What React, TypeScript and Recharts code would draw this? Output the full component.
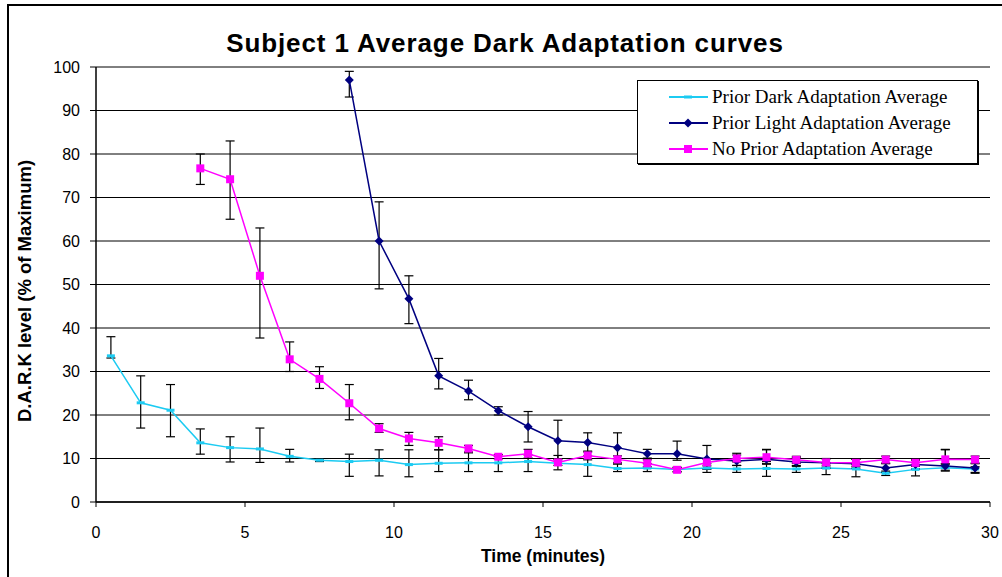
import React from 'react'
import {
  LineChart, Line, XAxis, YAxis, CartesianGrid, ErrorBar,
} from 'recharts'

// time in minutes (mid-point of each 1 min interval)
const times = [
  0.5, 1.5, 2.5, 3.5, 4.5, 5.5, 6.5, 7.5, 8.5, 9.5,
  10.5, 11.5, 12.5, 13.5, 14.5, 15.5, 16.5, 17.5, 18.5, 19.5,
  20.5, 21.5, 22.5, 23.5, 24.5, 25.5, 26.5, 27.5, 28.5, 29.5,
]

const priorDark = [
  33.6, 22.8, 21.1, 13.6, 12.5, 12.2, 10.5, 9.6, 9.3, 9.6,
  8.6, 8.9, 9.0, 9.0, 9.3, 8.9, 8.6, 7.7, 7.8, 7.5,
  7.8, 7.6, 7.7, 7.6, 7.8, 7.6, 6.6, 7.5, 7.9, 7.6,
]
const priorDarkErr: [number, number][] = [
  [0.5, 4.4], [5.8, 6.2], [6.1, 5.9], [2.6, 3.2], [3.3, 2.5], [3.1, 4.8], [1.3, 1.6], [0.3, 0.3], [3.4, 1.7], [3.6, 2.4],
  [2.8, 3.4], [1.9, 3.1], [2.0, 2.5], [2.0, 1.5], [2.3, 1.5], [1.5, 1.8], [2.7, 2.0], [0.7, 1.0], [0.8, 1.0], [0.5, 0.5],
  [1.0, 1.0], [0.8, 0.8], [1.8, 1.0], [0.8, 0.8], [1.5, 1.0], [1.8, 1.0], [0.5, 0.5], [1.5, 1.0], [0.8, 0.8], [1.0, 0.5],
]

const priorLight = [
  null, null, null, null, null, null, null, null, 97, 60,
  46.7, 29, 25.5, 21, 17.3, 14.1, 13.7, 12.5, 11.1, 11.1,
  9.9, 9.4, 9.8, 9.2, 9.0, 8.8, 7.8, 8.6, 8.3, 7.8,
]
const priorLightErr: ([number, number] | null)[] = [
  null, null, null, null, null, null, null, null, [3.9, 2.0], [11, 9],
  [5.7, 5.3], [3, 4], [2, 2.5], [1, 0.9], [3.5, 3.5], [4.7, 4.7], [2.2, 2.2], [3.5, 3.4], [1, 1], [1.5, 2.9],
  [2.4, 3.1], [1, 1.8], [1, 2.3], [1, 1], [1.2, 1], [1, 1], [1, 1], [1, 1], [1, 3.8], [1, 1],
]

const noPrior = [
  null, null, null, 76.7, 74.2, 52, 32.8, 28.3, 22.7, 16.9,
  14.6, 13.6, 12.3, 10.4, 11.1, 9.1, 10.7, 9.8, 8.9, 7.4,
  9.1, 10.0, 10.3, 9.7, 9.1, 9.0, 9.75, 9.0, 9.8, 9.75,
]
const noPriorErr: ([number, number] | null)[] = [
  null, null, null, [3.7, 3.3], [9.2, 8.8], [14.3, 11], [2.8, 4], [2.2, 2.8], [3.8, 4.3], [0.9, 1.1],
  [1.6, 1.4], [1.6, 1.4], [1, 0.7], [0.5, 0.5], [1, 1], [0.7, 0.7], [1, 1], [0.8, 0.8], [0.8, 0.8], [0.5, 0.5],
  [0.8, 0.8], [0.8, 0.8], [1, 1.7], [0.8, 0.8], [0.8, 0.8], [0.8, 0.8], [0.8, 0.8], [0.8, 0.8], [1, 2.2], [0.8, 0.8],
]

const xTicks = [0, 5, 10, 15, 20, 25, 30]
const yTicks = [0, 10, 20, 30, 40, 50, 60, 70, 80, 90, 100]

const seriesNames = [
  'Prior Dark Adaptation Average',
  'Prior Light Adaptation Average',
  'No Prior Adaptation Average',
]

const CYAN = '#1ccbf2'
const NAVY = '#000080'
const PINK = '#ff00ff'

const data = times.map((t, i) => ({
  t,
  dark: priorDark[i],
  darkErr: priorDarkErr[i],
  light: priorLight[i],
  lightErr: priorLightErr[i],
  none: noPrior[i],
  noneErr: noPriorErr[i],
}))

const sans = '"Liberation Sans", Arial, sans-serif'
const serif = '"Liberation Serif", "Times New Roman", serif'

function Marker({ kind, cx, cy, color }: { kind: string; cx: number; cy: number; color: string }) {
  if (kind === 'dash') return <rect x={cx - 4} y={cy - 1.5} width={8} height={3} fill={color} />
  if (kind === 'diamond')
    return <path d={`M${cx},${cy - 4.5}L${cx + 4.5},${cy}L${cx},${cy + 4.5}L${cx - 4.5},${cy}Z`} fill={color} />
  return <rect x={cx - 4} y={cy - 4} width={8} height={8} fill={color} />
}

const dotFor = (kind: string, color: string) => (props: any) => {
  const { cx, cy, index, value } = props
  if (cx == null || cy == null || value == null) return <g key={index} />
  return <g key={index}><Marker kind={kind} cx={cx} cy={cy} color={color} /></g>
}

const legendItems = [
  { name: seriesNames[0], color: CYAN, kind: 'dash' },
  { name: seriesNames[1], color: NAVY, kind: 'diamond' },
  { name: seriesNames[2], color: PINK, kind: 'square' },
]

function LegendBox() {
  return (
    <div style={{
      position: 'absolute', left: 637, top: 80, zIndex: 2,
      width: 341, height: 84, boxSizing: 'border-box', background: '#fff',
      border: '1px solid #000', boxShadow: '1px 1px 0 #000', paddingTop: 3,
    }}>
      {legendItems.map((it) => (
        <div key={it.name} style={{ display: 'flex', alignItems: 'center', height: 26 }}>
          <svg width={74} height={26} style={{ flex: 'none' }}>
            <line x1={31} x2={70} y1={13} y2={13} stroke={it.color} strokeWidth={2} />
            <Marker kind={it.kind} cx={50} cy={13} color={it.color} />
          </svg>
          <span style={{ fontFamily: serif, fontSize: 19, color: '#000', whiteSpace: 'nowrap' }}>{it.name}</span>
        </div>
      ))}
    </div>
  )
}

export default function App() {
  // fixed page-sized box so nothing spills into scrollbars
  return (
    <div style={{
      position: 'fixed', left: 0, top: 0, width: 1002, height: 577,
      overflow: 'hidden', background: '#fff', fontFamily: sans,
    }}>
      <div style={{
        position: 'absolute', left: 7, top: 4, width: 1000, height: 600,
        borderTop: '2px solid #000', borderLeft: '2px solid #000',
      }} />
      <div style={{
        position: 'absolute', left: 0, width: 1010, top: 28, textAlign: 'center',
        fontSize: 26, fontWeight: 'bold', color: '#000', letterSpacing: 0.9,
      }}>
        Subject 1 Average Dark Adaptation curves
      </div>
      <div style={{ position: 'absolute', left: 25, top: 291, width: 0, height: 0 }}>
        <div style={{
          position: 'absolute', left: 0, top: 0, transform: 'translate(-50%, -50%) rotate(-90deg)',
          fontSize: 18.5, fontWeight: 'bold', whiteSpace: 'nowrap', color: '#000',
        }}>
          D.A.R.K level (% of Maximum)
        </div>
      </div>
      <div style={{
        position: 'absolute', left: 543, top: 546, transform: 'translateX(-50%)',
        fontSize: 17.5, fontWeight: 'bold', whiteSpace: 'nowrap', color: '#000',
      }}>
        Time (minutes)
      </div>
      <LegendBox />
      <div style={{ position: 'absolute', left: 8, top: 8 }}>
        <LineChart width={994} height={569} data={data}
          margin={{ top: 59, right: 12, bottom: 45, left: 28 }}>
          <CartesianGrid vertical={false} stroke="#000" strokeWidth={1} />
          <XAxis dataKey="t" type="number" domain={[0, 30]} ticks={xTicks}
            axisLine={{ stroke: '#000', strokeWidth: 1.5 }} tickLine={{ stroke: '#000' }}
            tickSize={5} tickMargin={20} height={30}
            tick={{ fill: '#000', fontSize: 16, fontFamily: sans }} />
          <YAxis type="number" domain={[0, 100]} ticks={yTicks} width={60}
            axisLine={{ stroke: '#000', strokeWidth: 1.5 }} tickLine={{ stroke: '#000' }}
            tickSize={6} tickMargin={10}
            tick={{ fill: '#000', fontSize: 16, fontFamily: sans }} />
          <Line dataKey="dark" name={seriesNames[0]} stroke={CYAN} strokeWidth={1.5}
            dot={dotFor('dash', CYAN)} isAnimationActive={false}>
            <ErrorBar dataKey="darkErr" direction="y" width={4.5} stroke="#000" strokeWidth={1.2} />
          </Line>
          <Line dataKey="light" name={seriesNames[1]} stroke={NAVY} strokeWidth={1.5}
            dot={dotFor('diamond', NAVY)} isAnimationActive={false}>
            <ErrorBar dataKey="lightErr" direction="y" width={4.5} stroke="#000" strokeWidth={1.2} />
          </Line>
          <Line dataKey="none" name={seriesNames[2]} stroke={PINK} strokeWidth={1.5}
            dot={dotFor('square', PINK)} isAnimationActive={false}>
            <ErrorBar dataKey="noneErr" direction="y" width={4.5} stroke="#000" strokeWidth={1.2} />
          </Line>
        </LineChart>
      </div>
    </div>
  )
}
